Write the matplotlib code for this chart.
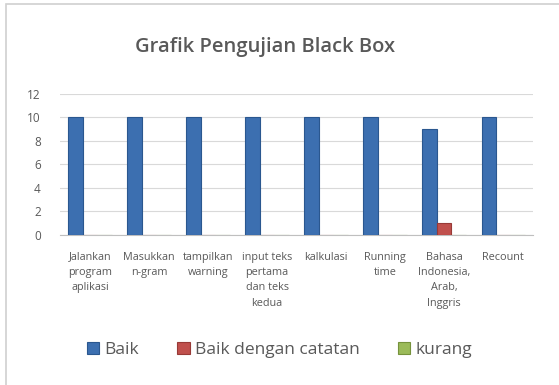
import numpy as np
import matplotlib.pyplot as plt
from matplotlib.patches import Rectangle

# Data
categories = ["Jalankan\nprogram\naplikasi", "Masukkan\nn-gram", "tampilkan\nwarning",
              "input teks\npertama\ndan teks\nkedua", "kalkulasi", "Running\ntime",
              "Bahasa\nIndonesia,\nArab,\nInggris", "Recount"]
baik = [10, 10, 10, 10, 10, 10, 9, 10]
baik_catatan = [0, 0, 0, 0, 0, 0, 1, 0]
kurang = [0, 0, 0, 0, 0, 0, 0, 0]
series_names = ["Baik", "Baik dengan catatan", "kurang"]
colors = ["#3C6FB0", "#C0504D", "#9BBB59"]
edges = ["#2A578F", "#983A37", "#76923C"]
yticks = [0, 2, 4, 6, 8, 10, 12]

plt.rcParams['font.family'] = ['Open Sans', 'DejaVu Sans']
text_color = "#595959"

fig = plt.figure(figsize=(5.59, 3.85), dpi=100)
# light frame around the chart area
fig.patches.append(Rectangle((0.011, -0.01), 1.0, 1.0, transform=fig.transFigure,
                             facecolor="white", edgecolor="#D0D0D0", linewidth=1.2,
                             zorder=-10))

ax = fig.add_axes([0.108, 0.39, 0.845, 0.367])
ax.set_facecolor("none")
x = np.arange(len(categories))
w = 0.245
for i, vals in enumerate([baik, baik_catatan, kurang]):
    ax.bar(x + (i - 1) * w, vals, width=w, color=colors[i], edgecolor=edges[i],
           linewidth=0.8, label=series_names[i], zorder=3)

ax.set_xlim(-0.5, len(categories) - 0.5)
ax.set_ylim(0, 12)
ax.set_yticks(yticks)
ax.grid(axis='y', color="#D9D9D9", linewidth=0.8, zorder=0)
for s in ['top', 'right', 'left']:
    ax.spines[s].set_visible(False)
ax.spines['bottom'].set_color("#BFBFBF")
ax.set_xticks(x)
ax.set_xticklabels(categories, fontsize=7.8, color=text_color, linespacing=1.55)
ax.tick_params(axis='x', length=0, pad=12)
ax.tick_params(axis='y', length=0, labelsize=8.5, colors=text_color, pad=14)

fig.suptitle("Grafik Pengujian Black Box", x=0.475, y=0.905, fontsize=14.5,
             fontweight='semibold', color=text_color)

fig.legend(loc='center', bbox_to_anchor=(0.50, 0.09), ncol=3, frameon=False,
           fontsize=12.5, handlelength=0.7, handleheight=0.7, handletextpad=0.3,
           columnspacing=2.2, labelcolor=text_color)

fig.savefig("out.png", dpi=100)
